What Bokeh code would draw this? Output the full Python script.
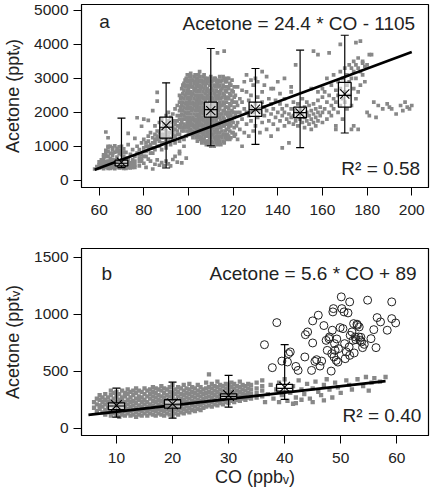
from bokeh.plotting import figure
from bokeh.layouts import column
from bokeh.models import Range1d, FixedTicker, Label
from bokeh.embed import file_html
from bokeh.resources import INLINE

# ---------------- Panel a data ----------------
cloud_a_low = [(58,330),(59,400),(60,360),(60,450),(60,540),(61,380),(61,520),(61,600),(62,340),(62,430),(62,610),
    (63,390),(63,700),(63,880),(63,1420),(64,350),(64,470),(64,560),(64,960),(65,410),(65,640),(65,790),(65,1000),
    (66,370),(66,500),(66,720),(66,900),(67,340),(67,450),(67,590),(67,830),(67,1010),(68,400),(68,520),(68,680),
    (68,940),(69,360),(69,470),(69,780),(69,880),(70,420),(70,600),(70,1000),(71,350),(71,480),(71,700),(71,920),
    (72,400),(72,550),(72,820),(73,370),(73,460),(73,640),(73,1050),(74,420),(74,510),(74,760),(75,380),(75,600),
    (75,900),(76,450),(76,700),(62,750),(63,800),(64,700),(64,850),(66,800),(68,850),(70,750),(70,880),(62,520),
    (63,480),(65,350),(67,380),(69,420),(71,400),(73,420),(75,450),(76,380),(65,540),(68,600),(72,480),(74,360),
    (59,350),(60,400),(61,440),(62,380),(63,440),(63,550),(64,400),(65,460),(66,420),(66,600),(67,500),(68,450),
    (69,560),(70,370),(70,480),(71,560),(72,350),(72,650),(73,550),(74,460),(75,520),(76,560),(62,680),(66,950),
    (64,1000),(69,980),(71,820),
    (73,1380),(64,1250),(77,1840),(79,1590),(82,1760),(76,1230),(86,2590),(86,2330),
    (78,420),(80,500),(81,380),(83,560),(84,330),(85,470),(86,600),(87,440),(88,520),(89,430),(90,560),(91,480),
    (93,610),(95,530),(97,510),(82,620),(79,560),(92,420),(94,700),(96,780),(99,650)]

cloud_a_band = [(77,800),(77,1000),(78,650),(78,900),(79,750),(79,1100),(80,850),(80,1200),(80,1800),(81,700),
    (81,1000),(82,900),(82,1150),(82,1300),(83,800),(83,1050),(83,1400),(84,950),(84,1250),(84,2050),(85,1100),
    (85,1350),(85,1600),(86,1000),(86,1200),(86,1450),(87,1150),(87,1400),(87,1700),(88,1250),(88,1500),(88,1800),
    (89,1100),(89,1350),(89,1650),(90,1200),(90,1450),(90,1900),(91,1300),(91,1600),(91,2000),(92,1400),(92,1700),
    (92,1850),(93,1350),(93,1550),(93,1950),(94,1500),(94,1750),(94,2100),(95,1600),(95,1900),(95,2200),(88,900),
    (90,950),(92,1050),(94,1100),(96,850),(98,1000),(78,750),(80,950),(81,850),(84,1100),(85,900),(87,1000),
    (89,1500),(91,1150),(93,1200),(95,1350),
    (78,550),(79,650),(80,700),(81,1100),(82,1000),(83,950),(84,800),(85,1200),(86,1300),(87,1250),(88,1100),
    (88,1350),(89,1250),(90,1050),(90,1350),(91,1400),(91,1750),(92,1250),(92,1550),(93,1450),(93,1750),(94,1300),
    (94,1650),(95,1450),(95,1750),(96,1350),(96,1150),(97,1250),(97,1450),(98,1200),(99,1300)]

cloud_a_blob = {
    96: [1550,1800,2050,2300,2500], 96.5: [1650,1900,2150,2400],
    97: [1700,1950,2200,2450,2700], 97.5: [1550,1800,2050,2300,2550,2800],
    98: [1450,1650,1900,2150,2400,2650,2850], 98.5: [1550,1800,2000,2250,2500,2750,2950],
    99: [1600,1850,2100,2300,2550,2800,3000], 99.5: [1450,1700,1950,2200,2400,2650,2900,3100],
    100: [1350,1550,1750,2000,2250,2450,2700,2950], 100.5: [1450,1650,1850,2100,2350,2550,2800,3050],
    101: [1500,1700,1950,2150,2400,2600,2850,3050,3150], 101.5: [1350,1600,1800,2050,2250,2500,2750,2950],
    102: [1250,1450,1650,1850,2100,2300,2550,2750,2950], 102.5: [1350,1550,1750,1950,2200,2400,2650,2850,3050],
    103: [1400,1600,1800,2050,2250,2500,2700,2900,3100], 103.5: [1250,1500,1700,1900,2150,2350,2600,2800,3000],
    104: [1150,1350,1550,1750,1950,2200,2400,2650,2850,3000], 104.5: [1250,1450,1650,1850,2050,2300,2500,2750,2950,3100],
    105: [1300,1500,1700,1900,2150,2350,2600,2800,3050,3200], 105.5: [1200,1400,1600,1800,2000,2250,2450,2700,2900],
    106: [1100,1250,1450,1650,1850,2050,2300,2500,2750,2950], 106.5: [1150,1350,1550,1750,1950,2150,2400,2600,2850,3050],
    107: [1200,1400,1600,1800,2000,2250,2450,2700,2900,3100], 107.5: [1100,1300,1500,1700,1900,2100,2350,2550,2800,3000],
    108: [1050,1300,1500,1700,1950,2150,2400,2600,2850,3000], 108.5: [1150,1400,1600,1800,2050,2250,2500,2700,2950],
    109: [1150,1350,1550,1800,2000,2200,2450,2650,2900], 109.5: [1050,1250,1450,1700,1900,2100,2350,2550,2800,3000],
    110: [1000,1250,1450,1650,1900,2100,2350,2550,2800,3050], 110.5: [1150,1350,1550,1800,2000,2250,2450,2700,2900],
    111: [1100,1350,1550,1750,1950,2200,2400,2650,2950], 111.5: [1000,1250,1450,1650,1850,2100,2300,2550,2800,3000],
    112: [1200,1400,1600,1850,2050,2300,2500,2750,3000], 112.5: [1100,1300,1500,1750,1950,2200,2400,2650,2900],
    113: [1050,1300,1500,1700,1950,2150,2400,2600,2850,3750], 113.5: [1200,1400,1600,1850,2050,2250,2500,2750,2950],
    114: [1150,1400,1650,1850,2100,2300,2550,2800,3050], 114.5: [1050,1300,1550,1750,1950,2200,2400,2650,2900],
    115: [1250,1450,1700,1950,2200,2450,2700,2950], 115.5: [1150,1350,1600,1850,2050,2300,2550,2800,3050],
    116: [1100,1350,1600,1800,2050,2250,2500,2750,3000,3800], 116.5: [1250,1450,1700,1950,2150,2400,2650,2900],
    117: [1200,1500,1750,2000,2300,2600,2900], 117.5: [1350,1650,1900,2150,2450,2750,3000],
    118: [1300,1550,1850,2100,2400,2700,3000], 118.5: [1200,1450,1700,2000,2250,2550,2850],
    119: [1250,1600,1900,2200,2500,2800], 119.5: [1400,1750,2050,2350,2650,2950],
    120: [1400,1700,2000,2300,2600], 120.5: [1300,1550,1850,2150,2450,2750],
    121.5: [1600,2000,2300],
}

cloud_a_mid = [(121,1350),(121,1900),(121,2500),(122,1200),(122,1700),(122,2200),(122,2750),(123,1500),(123,2000),
    (123,2400),(124,1000),(124,1800),(124,2300),(124,2650),(125,1400),(125,2100),(125,2900),(126,1650),(126,2000),
    (126,2600),(127,1300),(127,1900),(127,2350),(128,1750),(128,2150),(128,2500),(129,1450),(129,2000),(129,2800),
    (130,1600),(130,2250),(131,1850),(131,2450),(131,2900),(132,1400),(132,2000),(133,1700),(133,2300),(133,2600),
    (134,1900),(134,2150),(135,1500),(135,2050),(135,3050),(136,1750),(136,2400),(137,1300),(137,1950),(137,2250),
    (138,1650),(138,2100),(138,2700),(139,1850),(139,2350),(140,1500),(140,2000),(141,1750),(141,2250),(141,2550),
    (142,950),(142,1900),(142,2100),(143,1600),(143,2000),(143,2400),(144,1800),(144,2200),(145,1100),(145,1700),
    (145,1950),(146,1850),(146,2100),(146,2600),(147,1650),(147,1900),(147,2300),(148,1750),(148,2050),(148,3400),
    (149,1600),(149,1950),(149,2250),(150,1800),(150,2100),(151,1700),(151,1950),(151,2400),(152,1850),(152,2150),
    (152,1550),(153,1750),(153,2000),(153,2300),(154,1650),(154,1900),(154,2200),(155,1800),(155,2050),(155,1500),
    (156,1700),(156,1950),(156,2250),(156,3800),(157,1850),(157,2100),(157,1600),(158,1750),(158,2000),(158,2350),
    (158,3700),(159,1900),(159,2150),(160,1700),(160,2000),(160,2450),(126,3100),(128,2950),(130,3000),(133,3200),
    (134,2800),(137,2700),(140,2900),(143,3000),(146,2750),(155,2700),(158,2600),(160,2700)]

cloud_a_high = [(161,2100),(161,2600),(162,1800),(162,2300),(162,3000),(163,2000),(163,2500),(163,3750),(164,1900),
    (164,2200),(164,2800),(165,2100),(165,2400),(165,3100),(166,1600),(166,2300),(166,2650),(167,2000),(167,2500),
    (167,2900),(168,2200),(168,2700),(168,3200),(168,4000),(169,1800),(169,2400),(169,3000),(170,2300),(170,2600),
    (170,3300),(171,2100),(171,2800),(171,3100),(172,2500),(172,2900),(172,3400),(173,2200),(173,3000),(173,3300),
    (174,1600),(174,2700),(174,3200),(174,3500),(175,2400),(175,3000),(175,3400),(175,4050),(176,2600),(176,3300),
    (176,3600),(177,2800),(177,3200),(177,4100),(178,3100),(178,3450),(178,3500),(179,2900),(179,3350),(180,2000),
    (180,3400),(181,3700),(182,3700),(181,1900),(183,2300),(184,1850),(173,1500),(176,1500),(166,1500)]

cloud_a_tail = [(185,2200),(187,2100),(189,2250),(190,2150),(191,2100),(193,1950),(195,2200),(196,2050),
    (197,2300),(198,2150),(199,2100),(200,2200)]

bins_a = [70, 90, 110, 130, 150, 170]
whisk_lo_a = [370, 360, 1015, 1055, 960, 1390]
q1_a = [420, 1240, 1860, 1880, 1840, 2150]
median_a = [500, 1560, 2080, 2080, 1990, 2500]
q3_a = [590, 1860, 2300, 2300, 2150, 2880]
whisk_hi_a = [1830, 2870, 3880, 3290, 3830, 4270]
mean_a = [530, 1610, 2050, 2090, 1980, 2540]
slope_a, intercept_a = 24.4, -1105
fit_x_a = [58, 200]

# ---------------- Panel b data ----------------
cloud_b_cols = {
    6: [180,230], 6.5: [150,210,260], 7: [170,200,250,290], 7.5: [140,190,230,270],
    8: [120,160,210,250,300], 8.5: [140,180,230,270], 9: [110,150,200,240,290,330],
    9.5: [130,170,220,260,310], 10: [120,160,190,230,280,320], 10.5: [100,140,180,210,250,300],
    11: [120,160,200,240,270,330], 11.5: [110,150,190,230,280,310], 12: [130,170,210,250,300,340],
    12.5: [110,150,190,230,270,320], 13: [120,160,200,240,290,330], 13.5: [100,140,180,220,260,310,350],
    14: [120,160,200,250,280,330], 14.5: [110,150,190,230,270,320], 15: [130,170,210,250,300,350],
    15.5: [110,150,190,230,280,330], 16: [130,170,210,260,300,340], 16.5: [120,160,200,240,280,320,360],
    17: [110,150,190,230,270,310,350], 17.5: [130,170,210,250,290,340], 18: [120,160,200,240,280,330,370],
    18.5: [110,150,190,230,270,310,350], 19: [130,170,210,250,290,340], 19.5: [120,160,200,240,280,320,360],
    20: [110,150,190,230,270,310,380], 20.5: [130,170,210,250,300,340], 21: [120,160,200,240,280,320,360],
    21.5: [140,180,220,260,300,350], 22: [130,170,210,250,290,330,380], 22.5: [150,190,230,270,310,350],
    23: [140,180,220,260,300,340,390], 23.5: [160,200,240,280,320,360], 24: [150,190,230,270,310,350],
    24.5: [170,210,250,290,330,380], 25: [160,200,240,280,320,360], 25.5: [180,220,260,300,340],
    26: [190,230,270,310,350,400], 26.5: [200,240,280,320,360,473], 27: [190,230,270,310,350,390],
    27.5: [210,250,290,330,370], 28: [200,240,280,320,360,410], 28.5: [220,260,300,340,380],
    29: [210,250,290,330,370], 29.5: [230,270,310,350,390], 30: [220,260,300,340,380],
    30.5: [240,280,320,360,400], 31: [230,270,310,350,390], 31.5: [250,290,330,370],
    32: [240,280,320,360,410], 32.5: [260,300,340,380], 33: [250,290,330,370],
    33.5: [270,310,350,390], 34: [260,300,340,380], 35: [270,310,350,400], 36: [280,330,370,420],
}
cloud_b_sparse = [(37,300),(37.5,380),(38,260),(38.5,340),(39,400),(39.5,290),(40,430),(41,310),(41.5,370),
    (42,270),(42.5,420),(43,340),(43.5,300),(44,390),(44.5,260),(45,350),(45.5,410),(46,320),(46.5,290),
    (47,380),(47.5,430),(48,340),(48.5,270),(49,400),(49.5,360),(50,310),(51,420),(51.5,380),(52,340),
    (53,430),(54,370),(54.5,450),(55,330),(55.5,400),(56,440),(57,410),(58,450),(36.5,230),(39,230),
    (42,220),(47,245),(40.5,240),(41.5,215),(43,250),(45,230)]

circles_b = [(36.4,734),(37.8,532),(38.6,928),(39.5,590),(40.5,582),(40.7,655),(41.0,670),(42.0,543),(42.4,508),
    (43.6,626),(43.7,822),(44.1,846),(44.8,508),(45.0,943),(45.0,749),(45.4,587),(45.7,602),(46.0,993),
    (46.3,546),(47.0,902),(47.4,772),(47.6,684),(47.9,787),(48.0,802),(48.3,502),(48.4,655),(48.5,861),
    (48.6,1022),(48.7,1051),(48.8,626),(48.9,743),(49.0,684),(49.2,596),(49.3,784),(49.6,699),(49.9,884),
    (50.1,1154),(50.2,1051),(50.6,1022),(50.7,743),(50.8,611),(51.0,670),(51.3,1013),(51.5,714),(51.6,1110),
    (51.7,816),(52.0,846),(52.2,772),(52.3,919),(52.6,802),(52.7,778),(53.0,905),(53.2,802),(53.3,890),
    (53.5,772),(53.7,758),(53.9,708),(54.2,737),(54.8,1125),(55.4,787),(55.9,866),(56.3,708),(56.5,972),
    (57.1,934),(58.3,861),(59.1,1110),(59.1,963),(59.8,925),(52.4,661),(50.4,875),(46.6,590),(52.9,914),
    (53.6,799),(49.5,581),(51.6,640)]

bins_b = [10, 20, 30, 40]
whisk_lo_b = [97, 88, 185, 253]
q1_b = [164, 176, 258, 326]
median_b = [195, 210, 280, 350]
q3_b = [223, 250, 302, 385]
whisk_hi_b = [352, 405, 464, 734]
mean_b = [200, 214, 288, 361]
slope_b, intercept_b = 5.6, 89
fit_x_b = [5, 58]

FONT = "Liberation Sans"
GRAY = "#888888"


def unzip(*groups):
    xs, ys = [], []
    for g in groups:
        for x, y in g:
            xs.append(x)
            ys.append(y)
    return xs, ys


def cols_to_pairs(cols):
    return [(x, y) for x, ys in cols.items() for y in ys]


def style(p, xticks, yticks):
    p.xgrid.visible = False
    p.ygrid.visible = False
    p.outline_line_color = "black"
    p.outline_line_width = 1.2
    p.background_fill_color = "white"
    p.border_fill_color = "white"
    p.xaxis.ticker = FixedTicker(ticks=xticks)
    p.yaxis.ticker = FixedTicker(ticks=yticks)
    for ax in (p.xaxis[0], p.yaxis[0]):
        ax.major_tick_out = 8
        ax.major_tick_in = 0
        ax.minor_tick_out = 0
        ax.minor_tick_in = 0
        ax.axis_line_color = "black"
        ax.major_tick_line_color = "black"
        ax.major_label_text_font = FONT
        ax.major_label_text_font_size = "15.5px"
        ax.major_label_text_color = "#222222"
        ax.axis_label_text_font = FONT
        ax.axis_label_text_font_size = "18px"
        ax.axis_label_text_font_style = "normal"
        ax.axis_label_text_color = "#222222"
    p.yaxis.major_label_standoff = 5
    p.xaxis.major_label_standoff = 9
    p.yaxis.axis_label = "Acetone (pptᵥ)"
    p.yaxis.axis_label_standoff = 8


def boxes(p, bins, lo, q1, med, q3, hi, mean, width, box_px):
    p.segment(x0=bins, y0=lo, x1=bins, y1=hi, line_color="black", line_width=1.2)
    p.scatter(x=bins + bins, y=lo + hi, marker="dash", size=8, line_color="black", line_width=1.2)
    p.vbar(x=bins, width=width, bottom=q1, top=q3, fill_color="white", fill_alpha=0.55,
           line_color="black", line_width=1.3)
    p.scatter(x=bins, y=med, marker="dash", size=box_px, line_color="black", line_width=1.1)
    p.scatter(x=bins, y=mean, marker="x", size=box_px, line_color="black", line_width=1.1)


# ---------------- Figure a ----------------
pa = figure(width=436, height=240, x_range=Range1d(52.1, 207.5), y_range=Range1d(-215, 5176),
            output_backend="svg", toolbar_location=None,
            min_border_left=79, min_border_right=4, min_border_top=4, min_border_bottom=53)
style(pa, [60, 80, 100, 120, 140, 160, 180, 200], [0, 1000, 2000, 3000, 4000, 5000])

ax_x, ax_y = unzip(cloud_a_low, cloud_a_band, cols_to_pairs(cloud_a_blob), cloud_a_mid, cloud_a_high, cloud_a_tail)
pa.scatter(x=ax_x, y=ax_y, marker="square", size=3.7, fill_color=GRAY, line_color=None)
pa.line(x=fit_x_a, y=[slope_a * x + intercept_a for x in fit_x_a], line_color="black", line_width=2.6)
boxes(pa, bins_a, whisk_lo_a, q1_a, median_a, q3_a, whisk_hi_a, mean_a, 5.7, 13)

pa.add_layout(Label(x=60, y=4685, text="a", text_font=FONT, text_font_size="19px",
                    text_baseline="middle", text_align="left", text_color="#222222"))
pa.add_layout(Label(x=201.5, y=4608, text="Acetone = 24.4 * CO - 1105", text_font=FONT,
                    text_font_size="19px", text_baseline="middle", text_align="right", text_color="#222222"))
pa.add_layout(Label(x=203.7, y=344, text="R² = 0.58", text_font=FONT, text_font_size="19px",
                    text_baseline="middle", text_align="right", text_color="#222222"))

# ---------------- Figure b ----------------
pb = figure(width=436, height=256, x_range=Range1d(3.76, 65.66), y_range=Range1d(-64, 1579),
            output_backend="svg", toolbar_location=None,
            min_border_left=78, min_border_right=8, min_border_top=8, min_border_bottom=61)
style(pb, [10, 20, 30, 40, 50, 60], [0, 500, 1000, 1500])
pb.xaxis.axis_label = "CO (ppbᵥ)"
pb.xaxis.axis_label_standoff = 1

bx, by = unzip(cols_to_pairs(cloud_b_cols), cloud_b_sparse)
pb.scatter(x=bx, y=by, marker="square", size=4.3, fill_color=GRAY, line_color=None)
cx, cy = unzip(circles_b)
pb.scatter(x=cx, y=cy, marker="circle", size=8, fill_color=None, line_color="#222222", line_width=1)
pb.line(x=fit_x_b, y=[slope_b * x + intercept_b for x in fit_x_b], line_color="black", line_width=2.6)
boxes(pb, bins_b, whisk_lo_b, q1_b, median_b, q3_b, whisk_hi_b, mean_b, 2.9, 15)

pb.add_layout(Label(x=7.35, y=1359, text="b", text_font=FONT, text_font_size="19px",
                    text_baseline="middle", text_align="left", text_color="#222222"))
pb.add_layout(Label(x=63.54, y=1359, text="Acetone = 5.6 * CO + 89", text_font=FONT,
                    text_font_size="19px", text_baseline="middle", text_align="right", text_color="#222222"))
pb.add_layout(Label(x=64.37, y=112, text="R² = 0.40", text_font=FONT, text_font_size="19px",
                    text_baseline="middle", text_align="right", text_color="#222222"))

layout = column(pa, pb, spacing=0)
open("out.html", "w").write(file_html(layout, INLINE))
